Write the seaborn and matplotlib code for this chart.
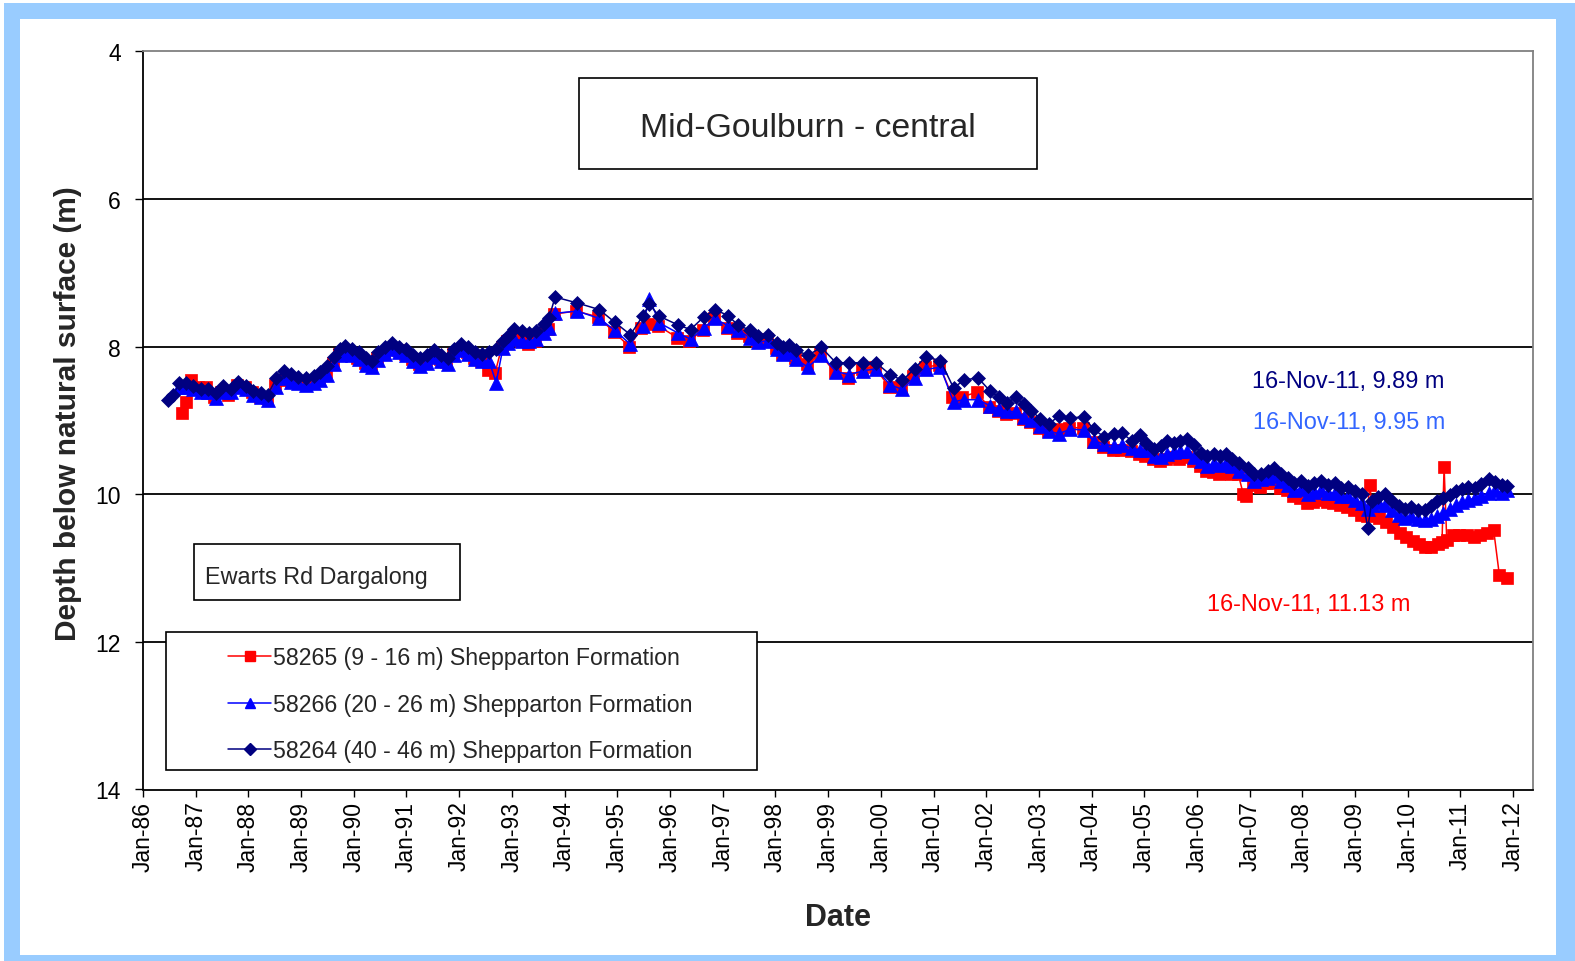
import numpy as np
import pandas as pd
import matplotlib
matplotlib.use("Agg")
import matplotlib.pyplot as plt
import matplotlib.dates as mdates
from matplotlib.patches import Rectangle
from matplotlib.lines import Line2D
import seaborn as sns

# ---- data (decimal years, depth below natural surface in m) ----
red_t = [1986.75, 1986.82, 1986.92, 1987.05, 1987.20, 1987.35, 1987.48, 1987.62, 1987.78, 1987.93,
         1988.07, 1988.22, 1988.35, 1988.50, 1988.66, 1988.80, 1988.93, 1989.08, 1989.22, 1989.33,
         1989.47, 1989.60, 1989.71, 1989.81, 1989.94, 1990.07, 1990.21, 1990.33, 1990.44, 1990.57,
         1990.71, 1990.84, 1990.97, 1991.10, 1991.24, 1991.37, 1991.50, 1991.63, 1991.76, 1991.88,
         1992.02, 1992.15, 1992.28, 1992.42, 1992.55, 1992.68, 1992.81, 1992.91, 1993.02, 1993.17,
         1993.31, 1993.44, 1993.58, 1993.68, 1993.80, 1994.22, 1994.64, 1994.93, 1995.23, 1995.46,
         1995.59, 1995.78, 1996.14, 1996.37, 1996.62, 1996.83, 1997.08, 1997.27, 1997.50, 1997.65,
         1997.84, 1998.01, 1998.13, 1998.24, 1998.37, 1998.60, 1998.85, 1999.13, 1999.38, 1999.65,
         1999.89, 2000.16, 2000.39, 2000.62, 2000.83, 2001.11, 2001.36, 2001.55, 2001.82, 2002.05,
         2002.23, 2002.38, 2002.54, 2002.69, 2002.84, 2003.01, 2003.17, 2003.36, 2003.58, 2003.83,
         2004.02, 2004.21, 2004.40, 2004.55, 2004.75, 2004.90, 2005.01, 2005.17, 2005.30, 2005.41,
         2005.54, 2005.66, 2005.79, 2005.93, 2006.05, 2006.17, 2006.30, 2006.42, 2006.53, 2006.65,
         2006.78, 2006.88, 2006.94, 2007.07, 2007.20, 2007.32, 2007.45, 2007.58, 2007.71, 2007.83,
         2007.96, 2008.08, 2008.21, 2008.34, 2008.46, 2008.59, 2008.72, 2008.85, 2008.97, 2009.11,
         2009.22, 2009.28, 2009.34, 2009.45, 2009.58, 2009.72, 2009.85, 2009.96, 2010.09, 2010.21,
         2010.33, 2010.45, 2010.57, 2010.65, 2010.69, 2010.74, 2010.86, 2010.98, 2011.12, 2011.26,
         2011.38, 2011.50, 2011.63, 2011.74, 2011.88]
red_d = [8.90, 8.75, 8.45, 8.55, 8.55, 8.68, 8.62, 8.65, 8.52, 8.55,
         8.62, 8.68, 8.70, 8.52, 8.45, 8.47, 8.48, 8.50, 8.47, 8.43,
         8.35, 8.22, 8.10, 8.07, 8.10, 8.15, 8.22, 8.25, 8.15, 8.08,
         8.02, 8.05, 8.10, 8.17, 8.23, 8.18, 8.11, 8.17, 8.21, 8.10,
         8.03, 8.08, 8.15, 8.20, 8.32, 8.36, 8.00, 7.93, 7.88, 7.92,
         7.96, 7.93, 7.82, 7.76, 7.56, 7.52, 7.60, 7.80, 8.00, 7.75,
         7.70, 7.72, 7.88, 7.92, 7.78, 7.62, 7.75, 7.82, 7.86, 7.92,
         7.90, 8.02, 8.10, 8.08, 8.15, 8.24, 8.10, 8.35, 8.42, 8.30,
         8.28, 8.55, 8.55, 8.40, 8.28, 8.25, 8.68, 8.68, 8.62, 8.82,
         8.88, 8.92, 8.90, 8.98, 9.02, 9.10, 9.15, 9.12, 9.10, 9.10,
         9.30, 9.36, 9.40, 9.40, 9.42, 9.45, 9.48, 9.52, 9.55, 9.52,
         9.50, 9.52, 9.50, 9.55, 9.62, 9.68, 9.70, 9.72, 9.70, 9.72,
         9.72, 10.00, 10.02, 9.88, 9.90, 9.85, 9.85, 9.92, 9.95, 10.02,
         10.05, 10.12, 10.10, 10.08, 10.10, 10.12, 10.15, 10.18, 10.22, 10.28,
         10.30, 9.88, 10.28, 10.32, 10.38, 10.45, 10.52, 10.58, 10.63, 10.68,
         10.72, 10.72, 10.68, 10.65, 9.63, 10.62, 10.55, 10.55, 10.55, 10.58,
         10.55, 10.52, 10.48, 11.10, 11.13]

blue_t = [1986.69, 1986.82, 1986.95, 1987.10, 1987.24, 1987.39, 1987.52, 1987.68, 1987.81, 1987.96,
          1988.09, 1988.24, 1988.37, 1988.53, 1988.68, 1988.81, 1988.95, 1989.10, 1989.24, 1989.35,
          1989.49, 1989.62, 1989.73, 1989.83, 1989.96, 1990.09, 1990.23, 1990.35, 1990.46, 1990.59,
          1990.73, 1990.86, 1990.99, 1991.12, 1991.26, 1991.39, 1991.52, 1991.65, 1991.78, 1991.90,
          1992.04, 1992.17, 1992.30, 1992.44, 1992.57, 1992.70, 1992.83, 1992.93, 1993.04, 1993.19,
          1993.33, 1993.46, 1993.60, 1993.70, 1993.82, 1994.24, 1994.66, 1994.95, 1995.25, 1995.48,
          1995.61, 1995.80, 1996.16, 1996.39, 1996.64, 1996.85, 1997.10, 1997.29, 1997.52, 1997.67,
          1997.86, 1998.03, 1998.15, 1998.26, 1998.39, 1998.62, 1998.87, 1999.15, 1999.40, 1999.67,
          1999.91, 2000.18, 2000.41, 2000.64, 2000.85, 2001.13, 2001.38, 2001.57, 2001.84, 2002.07,
          2002.25, 2002.40, 2002.56, 2002.71, 2002.86, 2003.03, 2003.19, 2003.38, 2003.60, 2003.85,
          2004.04, 2004.23, 2004.42, 2004.57, 2004.77, 2004.92, 2005.03, 2005.19, 2005.32, 2005.43,
          2005.56, 2005.68, 2005.81, 2005.95, 2006.07, 2006.19, 2006.32, 2006.44, 2006.55, 2006.67,
          2006.80, 2006.96, 2007.09, 2007.22, 2007.34, 2007.47, 2007.60, 2007.73, 2007.85, 2007.98,
          2008.10, 2008.23, 2008.36, 2008.48, 2008.61, 2008.74, 2008.87, 2008.99, 2009.13, 2009.24,
          2009.32, 2009.43, 2009.56, 2009.70, 2009.83, 2009.94, 2010.07, 2010.19, 2010.32, 2010.44,
          2010.55, 2010.67, 2010.80, 2010.91, 2011.03, 2011.14, 2011.28, 2011.39, 2011.54, 2011.66,
          2011.78, 2011.88]
blue_d = [8.55, 8.55, 8.58, 8.62, 8.62, 8.70, 8.62, 8.62, 8.55, 8.58,
          8.65, 8.68, 8.72, 8.55, 8.42, 8.48, 8.50, 8.52, 8.50, 8.45,
          8.38, 8.24, 8.12, 8.08, 8.12, 8.17, 8.25, 8.28, 8.18, 8.10,
          8.04, 8.08, 8.12, 8.20, 8.26, 8.22, 8.14, 8.20, 8.24, 8.12,
          8.05, 8.10, 8.17, 8.20, 8.20, 8.49, 8.02, 7.95, 7.90, 7.92,
          7.93, 7.90, 7.82, 7.75, 7.55, 7.52, 7.62, 7.78, 7.97, 7.72,
          7.35, 7.68, 7.82, 7.90, 7.75, 7.62, 7.72, 7.78, 7.88, 7.94,
          7.92, 8.04, 8.10, 8.08, 8.17, 8.28, 8.12, 8.34, 8.38, 8.33,
          8.30, 8.52, 8.58, 8.42, 8.31, 8.28, 8.75, 8.72, 8.72, 8.80,
          8.85, 8.88, 8.88, 8.95, 9.00, 9.08, 9.15, 9.18, 9.12, 9.13,
          9.28, 9.32, 9.35, 9.33, 9.38, 9.40, 9.40, 9.48, 9.50, 9.45,
          9.43, 9.42, 9.42, 9.50, 9.55, 9.62, 9.58, 9.60, 9.58, 9.62,
          9.68, 9.72, 9.82, 9.80, 9.78, 9.75, 9.82, 9.88, 9.95, 9.93,
          10.00, 9.97, 9.95, 9.98, 9.98, 10.03, 10.02, 10.08, 10.12, 10.20,
          10.15, 10.10, 10.15, 10.22, 10.28, 10.32, 10.30, 10.33, 10.35, 10.33,
          10.30, 10.25, 10.20, 10.15, 10.10, 10.08, 10.05, 10.02, 9.98, 9.95,
          9.98, 9.95]

navy_t = [1986.48, 1986.57, 1986.69, 1986.82, 1986.95, 1987.10, 1987.24, 1987.39, 1987.52, 1987.68,
          1987.81, 1987.96, 1988.09, 1988.24, 1988.37, 1988.53, 1988.68, 1988.81, 1988.95, 1989.10,
          1989.24, 1989.35, 1989.49, 1989.62, 1989.73, 1989.83, 1989.96, 1990.09, 1990.23, 1990.35,
          1990.46, 1990.59, 1990.73, 1990.86, 1990.99, 1991.12, 1991.26, 1991.39, 1991.52, 1991.65,
          1991.78, 1991.90, 1992.04, 1992.17, 1992.30, 1992.44, 1992.57, 1992.70, 1992.83, 1992.93,
          1993.04, 1993.19, 1993.33, 1993.46, 1993.60, 1993.70, 1993.82, 1994.24, 1994.66, 1994.95,
          1995.25, 1995.48, 1995.61, 1995.80, 1996.16, 1996.39, 1996.64, 1996.85, 1997.10, 1997.29,
          1997.52, 1997.67, 1997.86, 1998.03, 1998.15, 1998.26, 1998.39, 1998.62, 1998.87, 1999.15,
          1999.40, 1999.67, 1999.91, 2000.18, 2000.41, 2000.64, 2000.85, 2001.13, 2001.38, 2001.57,
          2001.84, 2002.07, 2002.25, 2002.40, 2002.56, 2002.71, 2002.86, 2003.03, 2003.19, 2003.38,
          2003.60, 2003.85, 2004.04, 2004.23, 2004.42, 2004.57, 2004.77, 2004.92, 2005.03, 2005.19,
          2005.32, 2005.43, 2005.56, 2005.68, 2005.81, 2005.95, 2006.07, 2006.19, 2006.32, 2006.44,
          2006.55, 2006.67, 2006.80, 2006.96, 2007.09, 2007.22, 2007.34, 2007.47, 2007.60, 2007.73,
          2007.85, 2007.98, 2008.10, 2008.23, 2008.36, 2008.48, 2008.61, 2008.74, 2008.87, 2008.99,
          2009.13, 2009.24, 2009.32, 2009.43, 2009.56, 2009.70, 2009.83, 2009.94, 2010.07, 2010.19,
          2010.32, 2010.44, 2010.55, 2010.67, 2010.80, 2010.91, 2011.03, 2011.14, 2011.28, 2011.39,
          2011.54, 2011.66, 2011.78, 2011.88]
navy_d = [8.73, 8.66, 8.50, 8.50, 8.53, 8.58, 8.57, 8.63, 8.53, 8.57,
          8.48, 8.53, 8.60, 8.63, 8.65, 8.43, 8.33, 8.37, 8.41, 8.43,
          8.40, 8.35, 8.26, 8.14, 8.03, 7.99, 8.03, 8.08, 8.15, 8.19,
          8.08, 8.01, 7.95, 8.00, 8.04, 8.11, 8.16, 8.12, 8.05, 8.11,
          8.15, 8.03, 7.96, 8.00, 8.07, 8.10, 8.08, 8.04, 7.93, 7.86,
          7.76, 7.79, 7.82, 7.79, 7.69, 7.62, 7.33, 7.41, 7.50, 7.67,
          7.84, 7.59, 7.43, 7.59, 7.71, 7.77, 7.60, 7.50, 7.58, 7.71,
          7.78, 7.86, 7.85, 7.95, 8.00, 7.98, 8.05, 8.12, 8.01, 8.22,
          8.22, 8.22, 8.22, 8.38, 8.46, 8.30, 8.14, 8.19, 8.56, 8.46,
          8.42, 8.60, 8.69, 8.76, 8.69, 8.78, 8.87, 8.98, 9.05, 8.94,
          8.97, 8.95, 9.12, 9.22, 9.18, 9.17, 9.28, 9.20, 9.31, 9.39,
          9.35, 9.28, 9.31, 9.28, 9.25, 9.33, 9.44, 9.48, 9.46, 9.48,
          9.46, 9.52, 9.58, 9.65, 9.73, 9.73, 9.69, 9.65, 9.73, 9.78,
          9.85, 9.82, 9.89, 9.85, 9.82, 9.87, 9.85, 9.92, 9.90, 9.96,
          10.00, 10.46, 10.09, 10.04, 10.00, 10.09, 10.16, 10.20, 10.17, 10.22,
          10.22, 10.16, 10.09, 10.05, 10.01, 9.96, 9.93, 9.90, 9.92, 9.86,
          9.80, 9.84, 9.87, 9.89]

series_labels = ["58265 (9 - 16 m) Shepparton Formation",
                 "58266 (20 - 26 m) Shepparton Formation",
                 "58264 (40 - 46 m) Shepparton Formation"]
end_labels = ["16-Nov-11, 11.13 m", "16-Nov-11, 9.95 m", "16-Nov-11, 9.89 m"]
y_ticks = [4, 6, 8, 10, 12, 14]


def to_dates(dec_years):
    out = []
    for t in dec_years:
        yr = int(t)
        start = pd.Timestamp(year=yr, month=1, day=1)
        days = (pd.Timestamp(year=yr + 1, month=1, day=1) - start).days
        out.append(start + pd.Timedelta(days=(t - yr) * days))
    return out


sns.set_style("ticks")
plt.rcParams['font.family'] = ['Liberation Sans', 'DejaVu Sans']

fig = plt.figure(figsize=(15.75, 9.62), dpi=100, facecolor='white')
# light blue frame around a white panel
fig.patches.append(Rectangle((4 / 1575, 0), 1 - 4 / 1575, 1 - 4 / 962, transform=fig.transFigure,
                             facecolor='#99CCFF', edgecolor='none', zorder=-10))
fig.patches.append(Rectangle((20 / 1575, 6 / 962), (1556 - 20) / 1575, (956 - 20) / 962,
                             transform=fig.transFigure, facecolor='white', edgecolor='none', zorder=-9))

ax = fig.add_axes([143 / 1575, 1 - 790.5 / 962, (1533 - 143) / 1575, (790.5 - 52.2) / 962])
ax.set_facecolor('white')

styles = [
    (red_t, red_d, '#FF0000', 's', 8.5, series_labels[0]),
    (blue_t, blue_d, '#0000FF', '^', 9.5, series_labels[1]),
    (navy_t, navy_d, '#000080', 'D', 7.5, series_labels[2]),
]
for i, (t, d, c, m, ms, lab) in enumerate(styles):
    sns.lineplot(x=to_dates(t), y=d, ax=ax, color=c, marker=m, markersize=ms,
                 markeredgecolor=c, markeredgewidth=0.5, linewidth=1.1,
                 estimator=None, sort=False, zorder=3 + i, legend=False)

ax.set_ylim(14, 4)
ax.set_yticks(y_ticks)
ax.set_xlim(pd.Timestamp('1986-01-01'), pd.Timestamp('2012-05-18'))
ax.xaxis.set_major_locator(mdates.YearLocator())
ax.xaxis.set_major_formatter(mdates.DateFormatter('%b-%y'))
ax.tick_params(axis='x', labelsize=16.5, rotation=90, direction='out', length=5, width=1, colors='black', pad=3)
ax.tick_params(axis='y', labelsize=16.5, direction='out', length=6, width=1, colors='black', pad=10)

for yv in y_ticks[1:-1]:
    ax.axhline(yv, color='black', linewidth=1.3, zorder=1)

for side in ['top', 'right']:
    ax.spines[side].set_color('#808080')
    ax.spines[side].set_linewidth(1.3)
for side in ['left', 'bottom']:
    ax.spines[side].set_color('black')
    ax.spines[side].set_linewidth(1.3)

ax.set_xlabel('Date', fontsize=22, fontweight='bold')
ax.set_ylabel('Depth below natural surface (m)', fontsize=21.5, fontweight='bold')
ax.xaxis.set_label_coords(0.5, -0.153)
ax.yaxis.set_label_coords(-0.044, 0.51)

# title box
ax.add_patch(Rectangle((0.3137, 0.8404), 0.3293, 0.1232, transform=ax.transAxes,
                       facecolor='white', edgecolor='black', linewidth=1.2, zorder=6))
ax.text(0.4784, 0.8965, 'Mid-Goulburn - central', transform=ax.transAxes, fontsize=24.3,
        ha='center', va='center', zorder=7)

# site box
ax.add_patch(Rectangle((0.0367, 0.2567), 0.1913, 0.0758, transform=ax.transAxes,
                       facecolor='white', edgecolor='black', linewidth=1.2, zorder=6))
ax.text(0.0446, 0.289, 'Ewarts Rd Dargalong', transform=ax.transAxes, fontsize=16.8,
        ha='left', va='center', zorder=7)

# end-of-record labels
ax.text(0.8669, 0.5545, end_labels[2], transform=ax.transAxes, fontsize=16.9,
        color='#000080', ha='center', va='center', zorder=7)
ax.text(0.8675, 0.4978, end_labels[1], transform=ax.transAxes, fontsize=16.9,
        color='#3366FF', ha='center', va='center', zorder=7)
ax.text(0.8388, 0.2515, end_labels[0], transform=ax.transAxes, fontsize=16.9,
        color='#FF0000', ha='center', va='center', zorder=7)

# legend
ax.add_patch(Rectangle((0.0165, 0.0264), 0.4252, 0.1869, transform=ax.transAxes,
                       facecolor='white', edgecolor='black', linewidth=1.2, zorder=6))
handles = [Line2D([], [], color=c, marker=m, markersize=ms * 0.8, markeredgecolor=c, linewidth=1.1)
           for (_, _, c, m, ms, _) in styles]
leg = ax.legend(handles, series_labels, loc='upper left', bbox_to_anchor=(0.0612, 0.1942),
                frameon=False, fontsize=16.7, handlelength=1.85, handletextpad=0.1,
                labelspacing=1.02, borderpad=0, borderaxespad=0)
leg.set_zorder(8)

fig.savefig('out.png', dpi=100, facecolor=fig.get_facecolor())
